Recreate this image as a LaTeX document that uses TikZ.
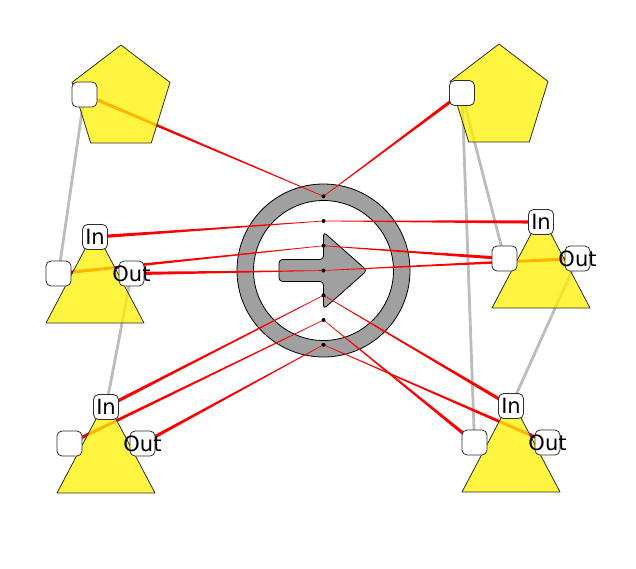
\documentclass[tikz,border=0pt]{standalone}
\usepackage{fontspec}
\setmainfont{DejaVu Sans}
\usetikzlibrary{calc}
\pgfdeclarelayer{back}
\pgfdeclarelayer{edges}
\pgfsetlayers{back,edges,main}
\definecolor{ringgray}{RGB}{160,160,160}
\definecolor{edgegray}{RGB}{188,188,188}
\definecolor{outl}{RGB}{45,45,45}
\newcommand\taperedge[2]{%
  \fill[red] ($(#1.center)!1.7pt!90:(#2.center)$) -- ($(#2.center)!0.3pt!-90:(#1.center)$)
    -- ($(#2.center)!0.3pt!90:(#1.center)$) -- ($(#1.center)!1.7pt!-90:(#2.center)$) -- cycle;}
\begin{document}
\begin{tikzpicture}[x=1pt,y=-1pt,
  shapefill/.style={draw=outl, line width=0.8pt, fill=yellow, fill opacity=0.75, line join=round},
  port/.style={draw=outl, line width=0.8pt, fill=white, rounded corners=5pt, minimum width=25pt, minimum height=25pt, inner sep=0pt, outer sep=0pt},
  lbl/.style={inner sep=0pt, font=\fontsize{21}{24}\selectfont, text=black},
  dotn/.style={circle, fill=black, inner sep=0pt, minimum size=4pt},
  grayedge/.style={draw=edgegray, line width=2.8pt}]
\useasboundingbox (0,0) rectangle (636,568);

% ---- yellow shapes ----
\draw[shapefill] (121,45) -- (170,82.4) -- (151.3,143) -- (90.7,143) -- (72,82.4) -- cycle;
\draw[shapefill] (499,44) -- (548,81.4) -- (529.3,142) -- (468.7,142) -- (450,81.4) -- cycle;
\draw[shapefill] (46,323) -- (95,230) -- (144,323) -- cycle;
\draw[shapefill] (492,308) -- (541,215) -- (590,308) -- cycle;
\draw[shapefill] (57,493) -- (106,400) -- (155,493) -- cycle;
\draw[shapefill] (462,492) -- (511,399) -- (560,492) -- cycle;

% ---- ports ----
\node[port] (tlP) at (84.5,94.5) {};
\node[port] (trP) at (462,93) {};
\node[port] (lmIn) at (95,237) {};
\node[port] (lmP) at (58.5,273.5) {};
\node[port] (lmOut) at (131.5,273.5) {};
\node[port] (rmIn) at (541,222) {};
\node[port] (rmP) at (504.5,258.5) {};
\node[port] (rmOut) at (577.5,258.5) {};
\node[port] (blIn) at (106,407) {};
\node[port] (blP) at (69.5,443.5) {};
\node[port] (blOut) at (142.5,443.5) {};
\node[port] (brIn) at (511,406) {};
\node[port] (brP) at (474.5,442.5) {};
\node[port] (brOut) at (547.5,442.5) {};

% ---- labels ----
\node[lbl] (lmInT) at (lmIn) {In};
\node[lbl] (lmOutT) at (lmOut) {Out};
\node[lbl] (rmInT) at (rmIn) {In};
\node[lbl] (rmOutT) at (rmOut) {Out};
\node[lbl] (blInT) at (blIn) {In};
\node[lbl] (blOutT) at (blOut) {Out};
\node[lbl] (brInT) at (brIn) {In};
\node[lbl] (brOutT) at (brOut) {Out};

% ---- hub dots ----
\node[dotn] (d1) at (323.5,196.25) {};
\node[dotn] (d2) at (323.5,221) {};
\node[dotn] (d3) at (323.5,245.75) {};
\node[dotn] (d4) at (323.5,270.5) {};
\node[dotn] (d5) at (323.5,295.25) {};
\node[dotn] (d6) at (323.5,320) {};
\node[dotn] (d7) at (323.5,344.75) {};

% ---- central icon ----
\begin{pgfonlayer}{back}
  \coordinate (hub) at (323.5,270.5);
  \fill[ringgray, even odd rule] (hub) circle[radius=86.5pt] (hub) circle[radius=70pt];
  \draw[black, line width=0.8pt] (hub) circle[radius=86.5pt];
  \draw[black, line width=0.8pt] (hub) circle[radius=70pt];
  \draw[black, line width=0.8pt, fill=ringgray, rounded corners=3.5pt, line join=round]
    (279,259.5) -- (323.5,259.5) -- (323.5,232) -- (367,270.5) -- (323.5,309)
    -- (323.5,281.5) -- (279,281.5) -- cycle;
\end{pgfonlayer}

% ---- connectors ----
\begin{pgfonlayer}{edges}
  \draw[grayedge] (tlP.center) -- (lmP.center);
  \draw[grayedge] (lmOut.center) -- (blIn.center);
  \draw[grayedge] (trP.center) -- (brP.center);
  \draw[grayedge] (trP.center) -- (rmP.center);
  \draw[grayedge] (rmOut.center) -- (brIn.center);
  \taperedge{tlP}{d1}
  \taperedge{trP}{d1}
  \taperedge{lmIn}{d2}
  \taperedge{rmIn}{d2}
  \taperedge{lmP}{d3}
  \taperedge{rmP}{d3}
  \taperedge{lmOut}{d4}
  \taperedge{rmOut}{d4}
  \taperedge{blIn}{d5}
  \taperedge{brIn}{d5}
  \taperedge{blP}{d6}
  \taperedge{brP}{d6}
  \taperedge{blOut}{d7}
  \taperedge{brOut}{d7}
\end{pgfonlayer}
\end{tikzpicture}
\end{document}
